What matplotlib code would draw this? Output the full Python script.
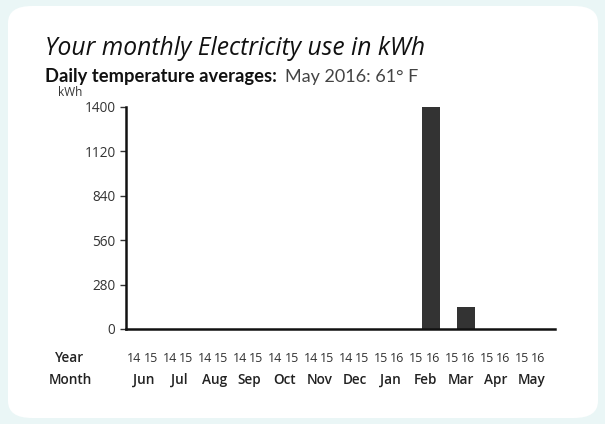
import matplotlib
matplotlib.use("Agg")
import matplotlib.pyplot as plt
from matplotlib.patches import FancyBboxPatch
from matplotlib.transforms import blended_transform_factory, offset_copy

months = ["Jun", "Jul", "Aug", "Sep", "Oct", "Nov", "Dec", "Jan", "Feb", "Mar", "Apr", "May"]
year_from = ["14", "14", "14", "14", "14", "14", "14", "15", "15", "15", "15", "15"]
year_to = ["15", "15", "15", "15", "15", "15", "15", "16", "16", "16", "16", "16"]
usage_kwh = [0, 0, 0, 0, 0, 0, 0, 0, 1400, 140, 0, 0]
yticks = [0, 280, 560, 840, 1120, 1400]

FONT = "Open Sans"
plt.rcParams["font.family"] = [FONT, "DejaVu Sans"]

fig = plt.figure(figsize=(6.05, 4.24), dpi=100)
fig.patch.set_facecolor("#eaf6f6")
card = FancyBboxPatch((8 / 605, 6 / 424), 590 / 605, 412 / 424,
                      boxstyle="round,pad=0,rounding_size=0.04",
                      transform=fig.transFigure, facecolor="white",
                      edgecolor="none", zorder=-5)
fig.patches.append(card)

ax = fig.add_axes([126 / 605, 1 - 329 / 424, (555 - 126) / 605, (329 - 107) / 424])
ax.set_zorder(2)
ax.set_facecolor("none")
x = list(range(len(months)))
ax.bar([i + 0.14 for i in x], usage_kwh, width=0.51, color="#333333", zorder=2)
ax.set_xlim(-0.5, -0.5 + 429 / 35.25)
ax.set_ylim(0, 1400)
ax.set_yticks(yticks)
ax.set_yticklabels([str(v) for v in yticks])
ax.set_xticks([])
for s in ["top", "right"]:
    ax.spines[s].set_visible(False)
for s in ["left", "bottom"]:
    ax.spines[s].set_linewidth(1.8)
    ax.spines[s].set_color("#111111")
ax.tick_params(axis="y", length=4.5, width=1, color="#333333", labelsize=9.8,
               labelcolor="#333333", pad=3)

tr = blended_transform_factory(ax.transData, fig.transFigure)
tr_l = offset_copy(tr, fig=fig, x=-1, y=0, units="dots")
tr_r = offset_copy(tr, fig=fig, x=1, y=0, units="dots")
for i, (m, y1, y2) in enumerate(zip(months, year_from, year_to)):
    ax.text(i - 0.03, 1 - 358 / 424, y1, transform=tr_l, ha="right", va="center",
            fontsize=9, color="#333333")
    ax.text(i - 0.03, 1 - 358 / 424, y2, transform=tr_r, ha="left", va="center",
            fontsize=9, color="#333333")
    ax.text(i, 1 - 380 / 424, m, transform=tr, ha="center", va="center",
            fontsize=9.8, color="#222222", fontweight="semibold")

fig.text(70 / 605, 1 - 358 / 424, "Year", ha="center", va="center",
         fontsize=9.8, color="#222222", fontweight="semibold")
fig.text(70 / 605, 1 - 380 / 424, "Month", ha="center", va="center",
         fontsize=9.8, color="#222222", fontweight="semibold")
fig.text(70 / 605, 1 - 93 / 424, "kWh", ha="center", va="center",
         fontsize=8.5, color="#333333")

fig.text(45 / 605, 1 - 55 / 424, "Your monthly Electricity use in kWh",
         ha="left", va="baseline", fontsize=17.7, style="italic", color="#111111")
fig.text(45 / 605, 1 - 82 / 424, "Daily temperature averages:",
         ha="left", va="baseline", fontsize=13.2, fontweight="bold", color="#111111",
         family=["Lato", "DejaVu Sans"])
fig.text(285 / 605, 1 - 82 / 424, "May 2016: 61\u00b0 F",
         ha="left", va="baseline", fontsize=13, color="#444444",
         family=["Lato", "DejaVu Sans"])

fig.savefig("out.png", dpi=100, facecolor=fig.get_facecolor())
